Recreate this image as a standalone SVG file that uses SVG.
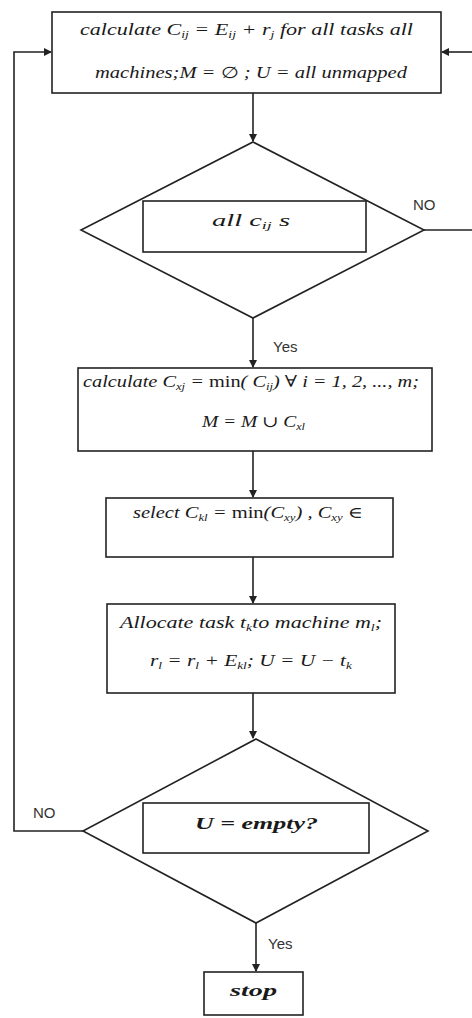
<svg xmlns="http://www.w3.org/2000/svg" width="472" height="1018" viewBox="0 0 472 1018">
<style>
.box{fill:#fff;stroke:#222;stroke-width:1.6}
.ln{fill:none;stroke:#222;stroke-width:1.6}
.m{font-family:"Liberation Serif","DejaVu Serif",serif;font-style:italic;font-size:16px;fill:#1a1a1a}
.u{font-style:normal}
.s{font-size:10px}
.lbl{font-family:"Liberation Sans",Arial,sans-serif;font-size:15px;fill:#333}
</style>
<defs>
<marker id="ah" markerWidth="8" markerHeight="8" refX="7" refY="4" orient="auto" markerUnits="userSpaceOnUse">
<path d="M0,0 L8,4 L0,8 z" fill="#222"/>
</marker>
</defs>
<rect width="472" height="1018" fill="#fff"/>
<g id="connectors">
<line class="ln" x1="253" y1="93" x2="253" y2="141" marker-end="url(#ah)"/>
<line class="ln" x1="424" y1="230" x2="472" y2="230"/>
<line class="ln" x1="472" y1="52" x2="442" y2="52" marker-end="url(#ah)"/>
<line class="ln" x1="253" y1="318" x2="253" y2="367" marker-end="url(#ah)"/>
<line class="ln" x1="253" y1="451" x2="253" y2="497" marker-end="url(#ah)"/>
<line class="ln" x1="253" y1="557" x2="253" y2="603" marker-end="url(#ah)"/>
<line class="ln" x1="253" y1="693" x2="253" y2="738" marker-end="url(#ah)"/>
<polyline class="ln" points="83,831 14,831 14,52 51,52" marker-end="url(#ah)"/>
<line class="ln" x1="256" y1="923" x2="256" y2="971" marker-end="url(#ah)"/>
<text class="lbl" x="413" y="210">NO</text>
<text class="lbl" x="273" y="352">Yes</text>
<text class="lbl" x="33" y="818">NO</text>
<text class="lbl" x="268" y="949">Yes</text>
</g>
<g id="n1">
<rect class="box" x="52" y="12" width="389" height="81"/>
<text class="m" x="80" y="35" textLength="333" lengthAdjust="spacingAndGlyphs">calculate C<tspan class="s" dy="3">ij</tspan><tspan dy="-3"> = E</tspan><tspan class="s" dy="3">ij</tspan><tspan dy="-3"> + r</tspan><tspan class="s" dy="3">j</tspan><tspan dy="-3"> for all tasks all</tspan></text>
<text class="m" x="95" y="78" textLength="312" lengthAdjust="spacingAndGlyphs">machines;M = <tspan class="u">∅</tspan> ; U = all unmapped</text>
</g>
<g id="n2">
<polygon class="box" points="253,142 424,230 253,318 81,230"/>
<rect class="box" x="143" y="201" width="223" height="51"/>
<text class="m" x="212" y="226" textLength="78" lengthAdjust="spacingAndGlyphs">all c<tspan class="s" dy="3">ij</tspan><tspan dy="-3"> s</tspan></text>
</g>
<g id="n3">
<rect class="box" x="78" y="368" width="354" height="83"/>
<text class="m" x="83" y="387" textLength="336" lengthAdjust="spacingAndGlyphs">calculate C<tspan class="s" dy="3">xj</tspan><tspan dy="-3"> = </tspan><tspan class="u">min</tspan>( C<tspan class="s" dy="3">ij</tspan><tspan dy="-3">) <tspan class="u">∀</tspan> i = 1, 2, ..., m;</tspan></text>
<text class="m" x="202" y="427" textLength="103" lengthAdjust="spacingAndGlyphs">M = M <tspan class="u">∪</tspan> C<tspan class="s" dy="3">xl</tspan></text>
</g>
<g id="n4">
<rect class="box" x="106" y="498" width="287" height="59"/>
<text class="m" x="133" y="518" textLength="230" lengthAdjust="spacingAndGlyphs">select C<tspan class="s" dy="3">kl</tspan><tspan dy="-3"> = </tspan><tspan class="u">min</tspan>(C<tspan class="s" dy="3">xy</tspan><tspan dy="-3">) , C</tspan><tspan class="s" dy="3">xy</tspan><tspan dy="-3"> <tspan class="u">∈</tspan></tspan></text>
</g>
<g id="n5">
<rect class="box" x="107" y="604" width="288" height="89"/>
<text class="m" x="120" y="628" textLength="262" lengthAdjust="spacingAndGlyphs">Allocate task t<tspan class="s" dy="3">k</tspan><tspan dy="-3">to machine m</tspan><tspan class="s" dy="3">l</tspan><tspan dy="-3">;</tspan></text>
<text class="m" x="150" y="666" textLength="202" lengthAdjust="spacingAndGlyphs">r<tspan class="s" dy="3">l</tspan><tspan dy="-3"> = r</tspan><tspan class="s" dy="3">l</tspan><tspan dy="-3"> + E</tspan><tspan class="s" dy="3">kl</tspan><tspan dy="-3">; U = U − t</tspan><tspan class="s" dy="3">k</tspan></text>
</g>
<g id="n6">
<polygon class="box" points="256,739 428,831 256,923 83,831"/>
<rect class="box" x="143" y="803" width="226" height="50"/>
<text class="m" x="195" y="829" font-weight="bold" textLength="123" lengthAdjust="spacingAndGlyphs">U = empty?</text>
</g>
<g id="n7">
<rect class="box" x="204" y="972" width="99" height="43"/>
<text class="m" x="230" y="996" font-weight="bold" textLength="47" lengthAdjust="spacingAndGlyphs">stop</text>
</g>
</svg>
